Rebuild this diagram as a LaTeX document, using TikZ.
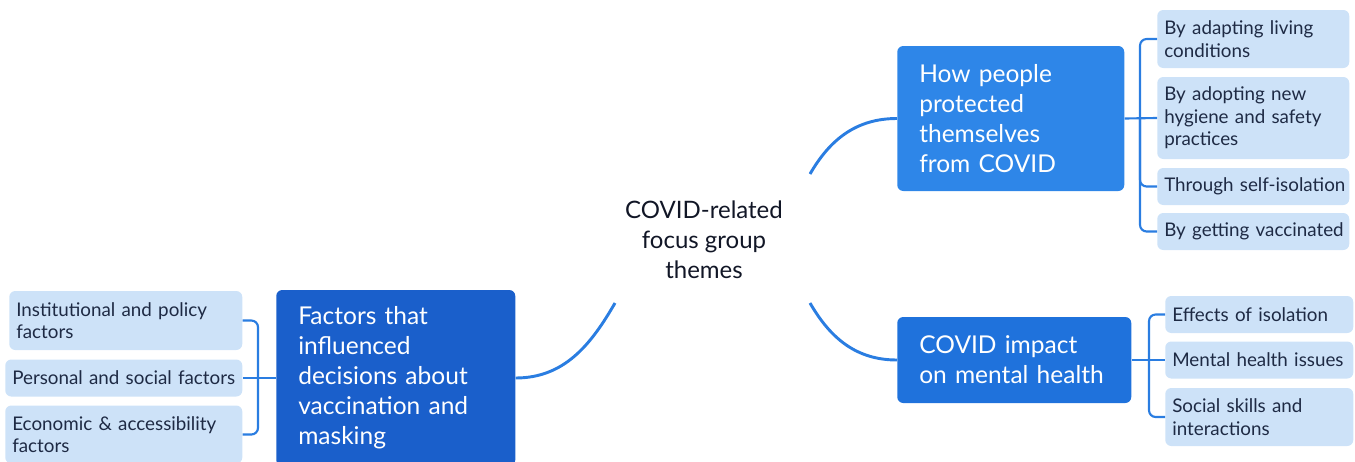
\documentclass[tikz,border=0pt]{standalone}
\usepackage{fontspec}
\setmainfont{Lato}
\definecolor{pblue}{HTML}{2E86E8}
\definecolor{mblue}{HTML}{1F72DC}
\definecolor{fblue}{HTML}{1A5FCB}
\definecolor{lightb}{HTML}{CDE2F8}
\definecolor{linec}{HTML}{2A7DE1}
\definecolor{dtext}{HTML}{1E2A44}
\definecolor{ctext}{HTML}{111626}
\begin{document}
\begin{tikzpicture}[x=0.75pt,y=-0.75pt,
  mainbox/.style={rectangle, rounded corners=4.5pt, text=white, anchor=west,
    align=left, inner xsep=16.5pt, inner ysep=0pt,
    font=\fontsize{18.4pt}{22.5pt}\selectfont},
  subbox/.style={rectangle, rounded corners=4.5pt, fill=lightb, text=dtext, anchor=west,
    align=left, inner xsep=5.25pt, inner ysep=0pt,
    font=\fontsize{14.1pt}{16.9pt}\selectfont},
  curvec/.style={draw=linec, line width=2.2pt},
  brack/.style={draw=linec, line width=1.6pt, rounded corners=5pt}]
\useasboundingbox (0,0) rectangle (1355,461);

% center
\node[align=center, text=ctext, font=\fontsize{18pt}{22.5pt}\selectfont] (C) at (704,240)
  {COVID-related\\focus group\\themes};

% main boxes
\node[mainbox, fill=pblue, text width=137.25pt, minimum height=108.75pt] (P) at (897,118.5)
  {How people\\protected\\themselves\\from COVID};
\node[mainbox, fill=mblue, text width=142.5pt, minimum height=64.5pt] (M) at (897,360)
  {COVID impact\\on mental health};
\node[mainbox, fill=fblue, text width=146.25pt, minimum height=132pt] (F) at (276,378)
  {Factors that\\influenced\\decisions about\\vaccination and\\masking};

% right-top sub boxes
\node[subbox, text width=133.5pt, minimum height=43.5pt] (p1) at (1157,39) {By adapting living\\conditions};
\node[subbox, text width=133.5pt, minimum height=61.5pt] (p2) at (1157,118) {By adopting new\\hygiene and safety\\practices};
\node[subbox, text width=133.5pt, minimum height=27.75pt] (p3) at (1157,186.5) {\mbox{Through self-isolation}};
\node[subbox, text width=133.5pt, minimum height=27.75pt] (p4) at (1157,231.5) {\mbox{By getting vaccinated}};

% right-bottom sub boxes
\node[subbox, text width=130.5pt, minimum height=27.75pt] (m1) at (1165,314.5) {\mbox{Effects of isolation}};
\node[subbox, text width=130.5pt, minimum height=27.75pt] (m2) at (1165,360) {\mbox{Mental health issues}};
\node[subbox, text width=130.5pt, minimum height=43.5pt] (m3) at (1165,417) {Social skills and\\interactions};

% left sub boxes
\node[subbox, text width=164.25pt, minimum height=44.25pt] (f1) at (9,320.5) {Institutional and policy\\factors};
\node[subbox, text width=167.25pt, minimum height=27.75pt] (f2) at (5,378) {\mbox{Personal and social factors}};
\node[subbox, text width=167.25pt, minimum height=43.5pt] (f3) at (5,434.5) {Economic \& accessibility\\factors};

% curves from center
\coordinate (c1) at (810,174);
\coordinate (c2) at (810,303);
\coordinate (c3) at (615,303);
\draw[curvec] (c1) to[out=60,in=180] (P.west);
\draw[curvec] (c2) to[out=-60,in=180] (M.west);
\draw[curvec] (c3) to[out=-120,in=0] (F.east);

% brackets
\coordinate (jP) at (1140,118);
\coordinate (jM) at (1149,360);
\coordinate (jF) at (258,378);
\draw[brack] (P.east) -- (p2.west);
\draw[brack] (jP) |- (p1.west);
\draw[brack] (jP) |- (p3.west);
\draw[brack] (jP) |- (p4.west);
\draw[brack] (M.east) -- (m2.west);
\draw[brack] (jM) |- (m1.west);
\draw[brack] (jM) |- (m3.west);
\draw[brack] (F.west) -- (f2.east);
\draw[brack] (jF) |- (f1.east);
\draw[brack] (jF) |- (f3.east);
\end{tikzpicture}
\end{document}
